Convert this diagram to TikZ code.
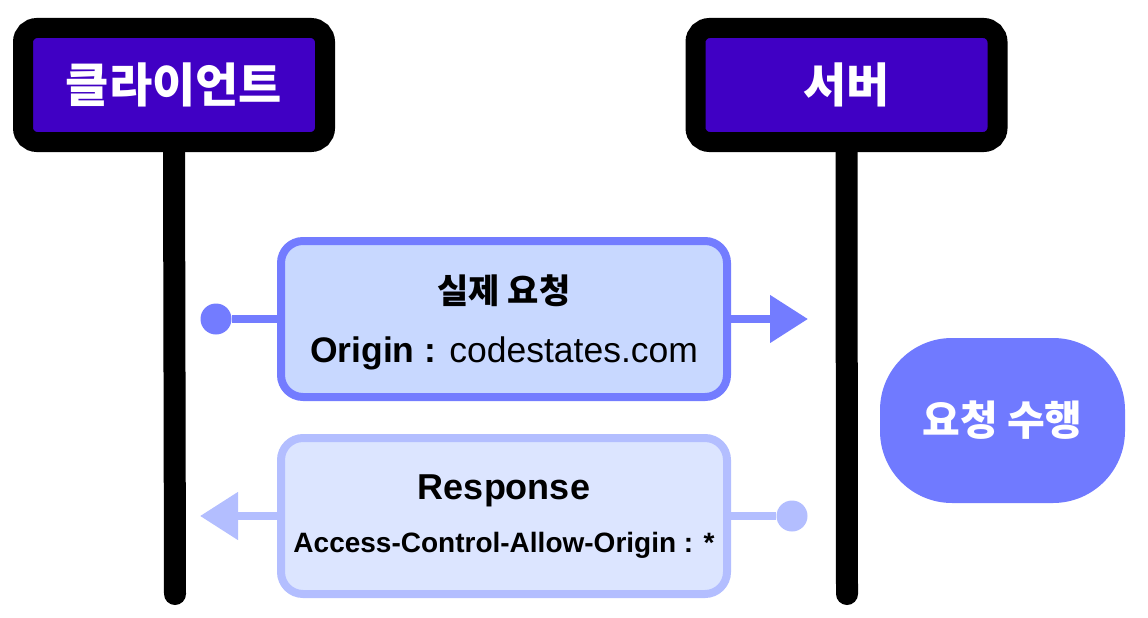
\documentclass[tikz,border=0pt]{standalone}
\usepackage{fontspec}
\setmainfont{Liberation Sans}
\newfontfamily\kofont{Noto Sans CJK KR}
\usetikzlibrary{arrows.meta, backgrounds}
\definecolor{headpurple}{RGB}{64,0,196}
\definecolor{reqline}{RGB}{115,124,255}
\definecolor{reqfill}{RGB}{200,216,255}
\definecolor{resline}{RGB}{179,190,255}
\definecolor{resfill}{RGB}{220,229,255}
\definecolor{workfill}{RGB}{112,122,255}
\begin{document}
\begin{tikzpicture}[x=1pt, y=-1pt,
    head/.style={draw=black, line width=20pt, fill=headpurple, rounded corners=14pt,
        minimum width=302pt, minimum height=114pt, inner sep=0pt, text=white,
        font=\kofont\bfseries\fontsize{47}{56}\selectfont},
    life/.style={line width=22pt, line cap=round},
    msgbox/.style={line width=8pt, rounded corners=22pt, minimum width=446pt,
        minimum height=156pt, inner sep=0pt},
    dotend/.style={circle, inner sep=0pt, minimum size=31pt},
    tip/.style={-{Triangle[length=38pt, width=46pt]}}]
    \useasboundingbox (0, 0) rectangle (1148, 618);
    % headers and lifelines
    \node[head] (client) at (174, 85) {클라이언트};
    \node[head] (server) at (846.5, 85) {서버};
    \coordinate (clientend) at (175, 594);
    \coordinate (serverend) at (847, 594);
    \begin{scope}[on background layer]
    \draw[life] (client.south) -- (clientend);
    \draw[life] (server.south) -- (serverend);
    \end{scope}
    % request
    \node[msgbox, draw=reqline, fill=reqfill] (req) at (504, 319) {};
    \node[dotend, fill=reqline] (reqdot) at (216, 319) {};
    \coordinate (reqtip) at (808, 319);
    \draw[line width=8pt, reqline] (reqdot) -- (req.west);
    \draw[line width=8pt, reqline, tip] (req.east) -- (reqtip);
    \node[font=\kofont\bfseries\fontsize{34}{40}\selectfont] (reqtitle) at (504, 291) {실제 요청};
    \node[anchor=base, font=\fontsize{35.5}{42}\selectfont] (reqorigin) at (504, 362) {\textbf{Origin} \textbf{:} codestates.com};
    % response
    \node[msgbox, draw=resline, fill=resfill] (res) at (504, 516) {};
    \node[dotend, fill=resline] (resdot) at (792, 516) {};
    \coordinate (restip) at (200, 516);
    \draw[line width=8pt, resline] (resdot) -- (res.east);
    \draw[line width=8pt, resline, tip] (res.west) -- (restip);
    \node[anchor=base, font=\bfseries\fontsize{36}{43}\selectfont] (restitle) at (504, 499) {Response};
    \node[anchor=base, font=\bfseries\fontsize{28}{34}\selectfont] (resheader) at (504, 552) {Access-Control-Allow-Origin : *};
    % server work
    \node[fill=workfill, rounded corners=72pt, minimum width=245pt, minimum height=165pt,
        text=white, font=\kofont\bfseries\fontsize{41}{48}\selectfont] (work) at (1002.5, 420.5) {요청 수행};
\end{tikzpicture}
\end{document}
